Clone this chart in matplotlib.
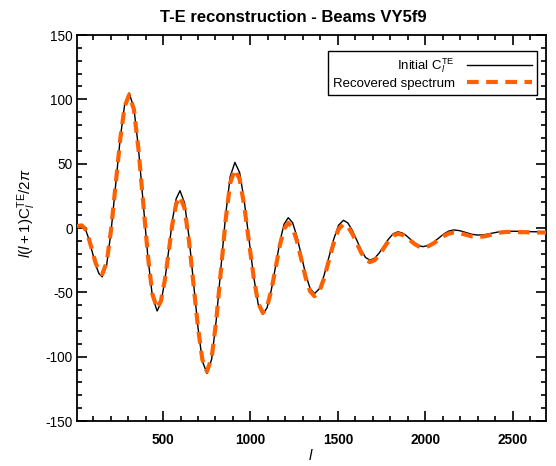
import matplotlib
matplotlib.use("Agg")
import matplotlib.pyplot as plt
from matplotlib.ticker import MultipleLocator

plt.rcParams['font.family'] = ['Liberation Sans', 'DejaVu Sans']
plt.rcParams['mathtext.fontset'] = 'custom'
plt.rcParams['mathtext.rm'] = 'Liberation Sans'
plt.rcParams['mathtext.it'] = 'Liberation Sans:italic'
plt.rcParams['mathtext.bf'] = 'Liberation Sans:bold'
plt.rcParams['axes.unicode_minus'] = False

# multipole l
ell = [8, 20, 35, 55, 74, 94, 113, 133, 152, 178, 203, 229, 255, 280, 306,
       333, 359, 386, 413, 439, 466, 488, 510, 532, 553, 575, 597,
       623, 648, 674, 700, 725, 751, 778, 804, 831, 858, 884, 911,
       938, 964, 991, 1018, 1044, 1071, 1095, 1119, 1144, 1168, 1192, 1216,
       1241, 1266, 1291, 1316, 1341, 1366, 1394, 1421, 1449, 1477, 1504, 1532,
       1557, 1582, 1608, 1633, 1658, 1683, 1710, 1736, 1763, 1790, 1816, 1843,
       1867, 1891, 1915, 1938, 1962, 1986, 2016, 2045, 2075, 2104, 2134, 2163,
       2197, 2232, 2266, 2300, 2342, 2383, 2425, 2466, 2540, 2615, 2690]

# initial TE spectrum l(l+1)C_l/2pi
initial_te = [1.5, 2.0, 2.2, -0.5, -7.9, -17.9, -28.0, -35.3, -38.0, -28.4, -2.3, 33.5, 69.3, 95.4, 105.0,
              93.6, 62.6, 20.3, -22.1, -53.1, -64.5, -58.2, -41.1, -17.8, 5.6, 22.7, 29.0,
              19.5, -6.5, -42.0, -77.5, -103.5, -113.0, -102.0, -72.0, -31.0, 10.0, 40.0, 51.0,
              43.1, 21.5, -8.0, -37.5, -59.1, -67.0, -62.0, -48.3, -29.5, -10.8, 3.0, 8.0,
              4.1, -6.8, -21.5, -36.3, -47.0, -51.0, -47.2, -36.8, -22.5, -8.3, 2.2, 6.0,
              3.9, -1.8, -9.5, -17.3, -22.9, -25.0, -23.5, -19.5, -14.0, -8.5, -4.5, -3.0,
              -3.8, -5.9, -8.8, -11.6, -13.7, -14.5, -13.6, -11.3, -8.0, -4.8, -2.4, -1.5,
              -2.1, -3.5, -4.9, -5.5, -5.1, -4.0, -2.9, -2.5, -2.6, -2.9, -3.0]

# recovered spectrum
recovered_te = [1.2, 1.7, 2.0, -0.6, -7.5, -17.0, -26.5, -33.5, -36.0, -26.7, -1.1, 33.8, 68.6, 94.2, 103.5,
                92.4, 62.0, 20.5, -21.0, -51.4, -62.5, -56.7, -40.8, -19.0, 2.8, 18.7, 24.5,
                15.4, -9.5, -43.5, -77.5, -102.4, -111.5, -101.0, -72.3, -33.0, 6.3, 35.0, 45.5,
                38.0, 17.6, -10.3, -38.1, -58.5, -66.0, -61.3, -48.5, -31.0, -13.5, -0.7, 4.0,
                0.2, -10.3, -24.5, -38.8, -49.2, -53.0, -49.3, -39.0, -25.0, -11.0, -0.8, 3.0,
                1.0, -4.4, -11.8, -19.1, -24.5, -26.5, -25.0, -21.0, -15.5, -10.0, -6.0, -4.5,
                -5.2, -7.1, -9.8, -12.4, -14.3, -15.0, -14.2, -12.1, -9.3, -6.4, -4.3, -3.5,
                -4.0, -5.3, -6.5, -7.0, -6.4, -5.0, -3.6, -3.0, -3.2, -3.4, -3.5]

x_ticks = [500, 1000, 1500, 2000, 2500]
y_ticks = [-150, -100, -50, 0, 50, 100, 150]

fig = plt.figure(figsize=(5.56, 4.66), dpi=100)
ax = fig.add_axes([77/556, 1-421/466, (546-77)/556, (421-35)/466])

ax.plot(ell, initial_te, color='black', lw=1.0, label=r'Initial C$_l^{\rm TE}$', zorder=2)
ax.plot(ell, recovered_te, color='#ff6000', lw=3.0, dashes=(2.8, 1.8),
        label='Recovered spectrum', zorder=3)

ax.set_xlim(8, 2690)
ax.set_ylim(-150, 150)
ax.set_xticks(x_ticks)
ax.set_yticks(y_ticks)
ax.xaxis.set_minor_locator(MultipleLocator(100))
ax.yaxis.set_minor_locator(MultipleLocator(10))
ax.tick_params(which='both', direction='in', top=True, right=True, width=1.2, color='black')
ax.tick_params(which='major', length=7)
ax.tick_params(which='minor', length=3.5)
ax.tick_params(axis='x', which='major', pad=9, labelsize=9.8)
ax.tick_params(axis='y', which='major', pad=3, labelsize=9.8)
for lbl in ax.get_xticklabels():
    lbl.set_fontweight('bold')
for s in ax.spines.values():
    s.set_linewidth(1.3)

leg = ax.legend(loc='upper right', bbox_to_anchor=(537/556, 1-51/466), bbox_transform=fig.transFigure,
                markerfirst=False, fancybox=False, framealpha=1, edgecolor='black',
                fontsize=9.5, handlelength=4.9, borderpad=0.4, labelspacing=0.22,
                handletextpad=0.9, borderaxespad=0)
leg.get_frame().set_linewidth(1.0)

fig.text(293/556, 1-18/466, 'T-E reconstruction - Beams VY5f9', ha='center', va='center',
         fontsize=12, fontweight='bold')
fig.text(311/556, 1-455/466, r'$l$', ha='center', va='center', fontsize=11)
fig.text(27/556, 1-213/466, r'$l(l+1)\mathrm{C}_l^{\rm TE}/2\pi$', ha='center', va='center',
         rotation=90, fontsize=11)

fig.savefig('out.png', dpi=100)
